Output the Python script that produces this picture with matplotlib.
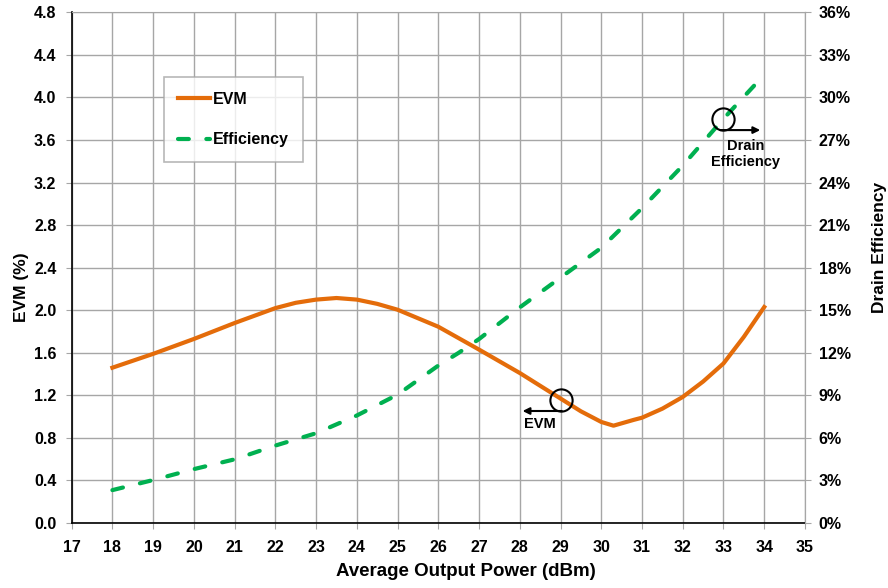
import matplotlib.pyplot as plt
from matplotlib.ticker import FuncFormatter

plt.rcParams['font.family'] = ['Liberation Sans', 'DejaVu Sans']
plt.rcParams['font.weight'] = 'bold'

# data
power = [18, 19, 20, 21, 22, 22.5, 23, 23.5, 24, 24.5, 25, 26, 27, 28, 29, 29.5, 30,
         30.3, 30.8, 31, 31.5, 32, 32.5, 33, 33.5, 34]
evm = [1.46, 1.59, 1.73, 1.88, 2.02, 2.07, 2.10, 2.115, 2.10, 2.06, 2.005, 1.845, 1.63,
       1.41, 1.17, 1.05, 0.95, 0.915, 0.97, 0.99, 1.075, 1.185, 1.33, 1.50, 1.75, 2.03]
eff_power = [18, 19, 20, 21, 22, 23, 24, 25, 26, 26.5, 27, 28, 29, 30, 31, 32, 33, 34]
efficiency = [2.32, 3.03, 3.8, 4.49, 5.46, 6.33, 7.58, 9.05, 11.1, 12.0, 12.97, 15.2,
              17.3, 19.4, 22.2, 25.2, 28.5, 31.6]

orange = '#E46C0A'
green = '#00B050'
grid_c = '#A6A6A6'

fig = plt.figure(figsize=(8.88, 5.88), dpi=100)
ax = fig.add_axes([0.0807, 0.1105, 0.8258, 0.8685])
ax2 = ax.twinx()

l1, = ax.plot(power, evm, color=orange, lw=3, label='EVM', solid_joinstyle='round')
l2, = ax2.plot(eff_power, efficiency, color=green, lw=3, ls=(0, (2.6, 4.2)),
               dash_capstyle='round', label='Efficiency')

ax.set_xlim(17, 35)
ax.set_ylim(0, 4.8)
ax2.set_ylim(0, 36)
ax.set_xticks(range(17, 36))
ax.set_yticks([i * 0.4 for i in range(13)])
ax.yaxis.set_major_formatter(FuncFormatter(lambda v, p: f"{v:.1f}"))
ax2.set_yticks(range(0, 37, 3))
ax2.yaxis.set_major_formatter(FuncFormatter(lambda v, p: f"{v:.0f}%"))

ax.grid(True, color=grid_c, lw=1)
ax.set_axisbelow(True)
for s in ['top', 'right']:
    ax.spines[s].set_color(grid_c)
ax2.spines['top'].set_visible(False)
ax2.spines['right'].set_color(grid_c)
ax2.spines['left'].set_visible(False)
ax2.spines['bottom'].set_visible(False)
ax.spines['left'].set_color('black')
ax.spines['bottom'].set_color('black')
ax.spines['left'].set_linewidth(1.2)
ax.spines['bottom'].set_linewidth(1.2)

ax.tick_params(axis='both', labelsize=11.5, length=4, color=grid_c, direction='out')
ax.tick_params(axis='x', pad=8)
ax.tick_params(axis='y', pad=7)
ax2.tick_params(axis='y', labelsize=11.5, length=4, color=grid_c, pad=6)

ax.set_xlabel('Average Output Power (dBm)', fontsize=13.5, fontweight='bold')
ax.set_ylabel('EVM (%)', fontsize=12.5, fontweight='bold')
ax2.set_ylabel('Drain Efficiency', fontsize=12.5, fontweight='bold')
ax.xaxis.set_label_coords(0.538, -0.078)
ax.yaxis.set_label_coords(-0.058, 0.462)
ax2.yaxis.set_label_coords(1.091, 0.540)

leg = ax.legend(handles=[l1, l2], loc='upper left', bbox_to_anchor=(0.1255, 0.873),
                fontsize=11.5, frameon=True, fancybox=False, edgecolor=grid_c,
                labelspacing=1.6, handlelength=2.0, handletextpad=0.2,
                borderpad=0.9, borderaxespad=0)
leg.get_frame().set_linewidth(1.2)
for t in leg.get_texts():
    t.set_fontweight('bold')

# annotations: circles + arrows
ax.plot([29.02], [1.16], marker='o', ms=16, mfc='none', mec='black', mew=1.5, zorder=5)
ax.annotate('', xy=(28.0, 1.053), xytext=(29.1, 1.053),
            arrowprops=dict(arrowstyle='-|>', color='black', lw=1.5, mutation_scale=10))
ax.text(28.5, 0.935, 'EVM', fontsize=10.5, fontweight='bold', ha='center', va='center')

ax2.plot([33.0], [28.5], marker='o', ms=16, mfc='none', mec='black', mew=1.5, zorder=5)
ax2.annotate('', xy=(33.97, 27.7), xytext=(32.85, 27.7),
             arrowprops=dict(arrowstyle='-|>', color='black', lw=1.5, mutation_scale=10))
ax2.text(33.55, 26.0, 'Drain\nEfficiency', fontsize=10.5, fontweight='bold',
         ha='center', va='center', linespacing=1.15)

fig.savefig('out.png', dpi=100)
